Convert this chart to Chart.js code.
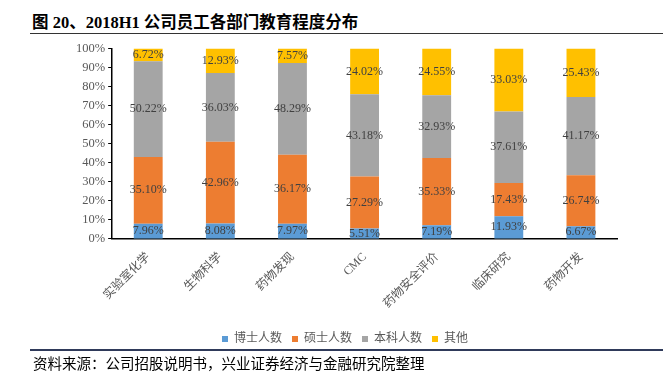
<!DOCTYPE html>
<html>
<head>
<meta charset="utf-8">
<script src="https://cdn.jsdelivr.net/npm/chart.js@4.4.0/dist/chart.umd.min.js"></script>
<style>
  body { margin: 0; width: 667px; height: 377px; background: #fff; overflow: hidden; position: relative; font-family: "Liberation Serif", "Noto Sans CJK SC", serif; }
  #title { position: absolute; left: 32px; top: 9px; font-size: 16.5px; font-weight: bold; color: #000; }
  #topLine { position: absolute; left: 30px; top: 33px; width: 633px; height: 0; border-top: 1px solid #333; }
  #botLine { position: absolute; left: 30px; top: 349px; width: 633px; height: 0; border-top: 2px solid #2f3a5a; }
  #source { position: absolute; left: 33px; top: 352px; font-size: 14.5px; color: #000; }
  #box { position: absolute; left: 0; top: 38px; width: 650px; height: 317px; }
</style>
</head>
<body>
<div id="title">图 20、2018H1 公司员工各部门教育程度分布</div>
<div id="topLine"></div>
<div id="box"><canvas id="chart"></canvas></div>
<div id="botLine"></div>
<div id="source">资料来源：公司招股说明书，兴业证券经济与金融研究院整理</div>
<script>
const categories = ["实验室化学", "生物科学", "药物发现", "CMC", "药物安全评价", "临床研究", "药物开发"];
const phd = [7.96, 8.08, 7.97, 5.51, 7.19, 11.93, 6.67];
const master = [35.10, 42.96, 36.17, 27.29, 35.33, 17.43, 26.74];
const bachelor = [50.22, 36.03, 48.29, 43.18, 32.93, 37.61, 41.17];
const other = [6.72, 12.93, 7.57, 24.02, 24.55, 33.03, 25.43];

const serif = "'Liberation Serif', 'Noto Sans CJK SC', serif";

// draw the value in the middle of each bar segment
const segLabels = {
  id: "segLabels",
  afterDatasetsDraw(chart) {
    const ctx = chart.ctx;
    ctx.save();
    ctx.font = "12px " + serif;
    ctx.fillStyle = "#404040";
    ctx.textAlign = "center";
    ctx.textBaseline = "middle";
    chart.data.datasets.forEach((ds, i) => {
      chart.getDatasetMeta(i).data.forEach((bar, j) => {
        const y = (bar.y + bar.base) / 2;
        ctx.fillText(ds.data[j].toFixed(2) + "%", bar.x, y);
      });
    });
    ctx.restore();
  }
};

new Chart(document.getElementById("chart"), {
  type: "bar",
  data: {
    labels: categories,
    datasets: [
      { label: "博士人数", data: phd, backgroundColor: "#5B9BD5" },
      { label: "硕士人数", data: master, backgroundColor: "#ED7D31" },
      { label: "本科人数", data: bachelor, backgroundColor: "#A5A5A5" },
      { label: "其他", data: other, backgroundColor: "#FFC000" }
    ]
  },
  options: {
    responsive: true,
    maintainAspectRatio: false,
    animation: false,
    datasets: { bar: { barPercentage: 0.8, categoryPercentage: 0.5 } },
    layout: { padding: { left: 73, right: 33, top: 7, bottom: 0 } },
    scales: {
      x: {
        stacked: true,
        grid: { display: false },
        border: { color: "#000", width: 1.5 },
        afterFit: s => { s.height += 9; },
        ticks: {
          minRotation: 45, maxRotation: 45,
          color: "#595959",
          font: { size: 12, family: serif }
        }
      },
      y: {
        stacked: true,
        min: 0, max: 100,
        grid: { drawOnChartArea: false, drawTicks: true, tickLength: 4, color: "#000" },
        border: { color: "#000", width: 1.5 },
        ticks: {
          stepSize: 10,
          color: "#595959",
          font: { size: 12.5, family: serif },
          callback: v => v + "%"
        }
      }
    },
    plugins: {
      legend: {
        position: "bottom",
        labels: {
          boxWidth: 6, boxHeight: 6,
          color: "#595959",
          font: { size: 12, family: serif }
        }
      },
      tooltip: { enabled: false }
    }
  },
  plugins: [segLabels]
});
</script>
</body>
</html>
